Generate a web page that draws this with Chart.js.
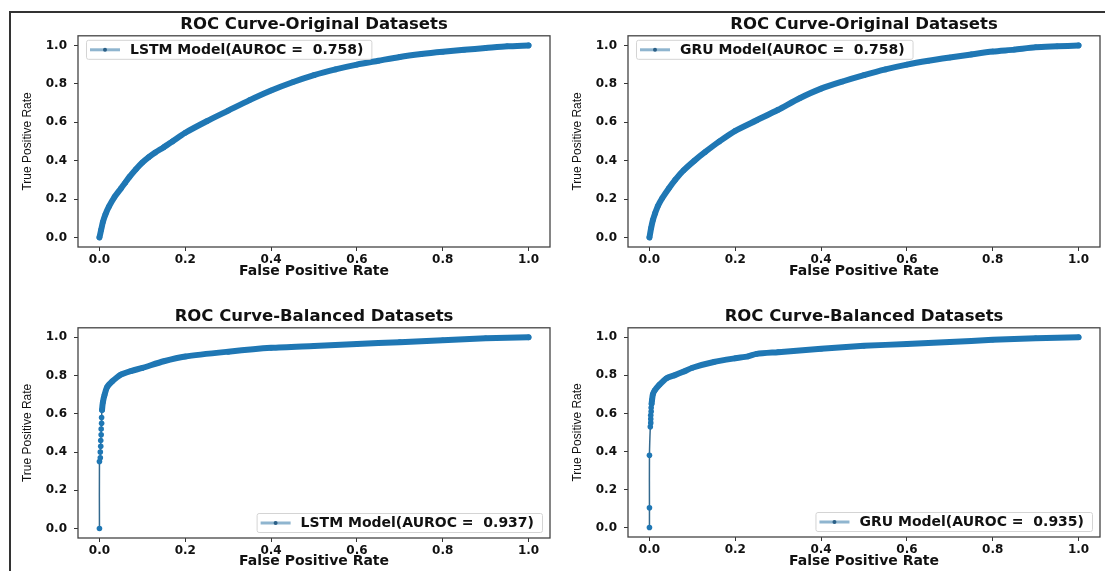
<!DOCTYPE html>
<html>
<head>
<meta charset="utf-8">
<script src="https://cdn.jsdelivr.net/npm/chart.js@4.4.1/dist/chart.umd.min.js"></script>
<style>
  body { margin: 0; background: #fff; }
  #page { position: relative; width: 1105px; height: 571px; overflow: hidden; background: #fff; }
  #frame { position: absolute; left: 9px; top: 11px; width: 1100px; height: 570px;
           border-top: 2px solid #333; border-left: 2px solid #333; }
  canvas { position: absolute; }
</style>
</head>
<body>
<div id="page">
  <div id="frame"></div>
  <canvas id="lstmOrig" width="560" height="285" style="left:0;top:0"></canvas>
  <canvas id="gruOrig" width="545" height="285" style="left:560px;top:0"></canvas>
  <canvas id="lstmBal" width="560" height="286" style="left:0;top:285px"></canvas>
  <canvas id="gruBal" width="545" height="286" style="left:560px;top:285px"></canvas>
</div>
<script>
// values
const tickValues = [0, 0.2, 0.4, 0.6, 0.8, 1.0];

const lstmOrigFpr = [0, 0.004, 0.008, 0.014, 0.022, 0.035, 0.05, 0.06, 0.07, 0.085, 0.1, 0.115, 0.13, 0.15, 0.17, 0.2, 0.25, 0.3, 0.35, 0.4, 0.45, 0.5, 0.55, 0.6, 0.65, 0.7, 0.75, 0.8, 0.85, 0.9, 0.95, 1.0];
const lstmOrigTpr = [0, 0.04, 0.08, 0.12, 0.16, 0.21, 0.255, 0.285, 0.315, 0.355, 0.39, 0.418, 0.442, 0.47, 0.5, 0.545, 0.605, 0.66, 0.715, 0.765, 0.808, 0.845, 0.875, 0.9, 0.92, 0.94, 0.955, 0.967, 0.977, 0.986, 0.995, 1.0];

const gruOrigFpr = [0, 0.004, 0.008, 0.013, 0.02, 0.03, 0.045, 0.06, 0.08, 0.105, 0.13, 0.163, 0.2, 0.25, 0.3, 0.35, 0.4, 0.45, 0.5, 0.55, 0.6, 0.65, 0.7, 0.75, 0.8, 0.85, 0.9, 0.95, 1.0];
const gruOrigTpr = [0, 0.05, 0.09, 0.125, 0.165, 0.205, 0.255, 0.3, 0.35, 0.4, 0.445, 0.5, 0.555, 0.61, 0.665, 0.725, 0.775, 0.812, 0.845, 0.875, 0.9, 0.92, 0.937, 0.953, 0.968, 0.978, 0.99, 0.995, 1.0];

const lstmBalFpr = [0, 0, 0.002, 0.002, 0.003, 0.003, 0.004, 0.004, 0.005, 0.005, 0.006, 0.008, 0.012, 0.018, 0.03, 0.05, 0.075, 0.1, 0.15, 0.2, 0.3, 0.4, 0.5, 0.6, 0.7, 0.8, 0.9, 1.0];
const lstmBalTpr = [0, 0.35, 0.37, 0.4, 0.43, 0.46, 0.49, 0.52, 0.55, 0.58, 0.62, 0.66, 0.7, 0.74, 0.77, 0.805, 0.825, 0.84, 0.875, 0.9, 0.925, 0.945, 0.955, 0.965, 0.975, 0.985, 0.995, 1.0];

const gruBalFpr = [0, 0, 0, 0.002, 0.003, 0.003, 0.003, 0.004, 0.004, 0.005, 0.006, 0.008, 0.012, 0.023, 0.04, 0.058, 0.08, 0.1, 0.15, 0.2, 0.23, 0.25, 0.3, 0.4, 0.5, 0.6, 0.7, 0.8, 0.9, 1.0];
const gruBalTpr = [0, 0.104, 0.38, 0.53, 0.55, 0.57, 0.59, 0.61, 0.63, 0.65, 0.67, 0.7, 0.72, 0.75, 0.785, 0.8, 0.82, 0.84, 0.87, 0.89, 0.9, 0.913, 0.922, 0.94, 0.955, 0.965, 0.975, 0.987, 0.995, 1.0];

const lineColor = '#1f77b4';
const tickFont = { family: 'DejaVu Sans', weight: 'bold', size: 12 };

// axes box on all four sides + matplotlib-like legend inside the plot
const axesBox = {
  id: 'axesBox',
  afterDatasetsDraw(chart, args, opts) {
    const { ctx, chartArea: a } = chart;
    const ds = chart.data.datasets[0];
    ctx.save();
    ctx.strokeStyle = '#444';
    ctx.lineWidth = 1.3;
    ctx.strokeRect(a.left, a.top, a.right - a.left, a.bottom - a.top);

    ctx.font = 'bold 14px "DejaVu Sans"';
    const tw = ctx.measureText(ds.label).width;
    const w = tw + 52, h = 19;
    const x = opts.corner === 'upper left' ? a.left + 8 : a.right - 8 - w;
    const y = opts.corner === 'upper left' ? a.top + 4 : a.bottom - 6 - h;
    ctx.fillStyle = 'rgba(255,255,255,0.9)';
    ctx.strokeStyle = '#d4d4d4';
    ctx.lineWidth = 1;
    ctx.beginPath();
    ctx.roundRect(x + 0.5, y + 0.5, w, h, 2);
    ctx.fill();
    ctx.stroke();
    ctx.strokeStyle = '#8fb5cf';
    ctx.lineWidth = 3;
    ctx.beginPath();
    ctx.moveTo(x + 4, y + h / 2 + 0.5);
    ctx.lineTo(x + 34, y + h / 2 + 0.5);
    ctx.stroke();
    ctx.fillStyle = '#2b5f86';
    ctx.beginPath();
    ctx.arc(x + 19, y + h / 2 + 0.5, 2, 0, Math.PI * 2);
    ctx.fill();
    ctx.fillStyle = '#111';
    ctx.textBaseline = 'middle';
    ctx.fillText(ds.label, x + 44, y + h / 2 + 1);
    ctx.restore();
  }
};

function makeChart(id, fpr, tpr, label, cfg) {
  const points = fpr.map((v, i) => ({ x: v, y: tpr[i] }));
  const thin = c => c.p1.parsed.y < cfg.thinBelow && c.p1.parsed.x < 0.01;
  const ctx = document.getElementById(id).getContext('2d');
  return new Chart(ctx, {
    type: 'line',
    data: {
      datasets: [{
        label: label,
        data: points,
        borderColor: lineColor,
        backgroundColor: lineColor,
        borderWidth: 6,
        borderCapStyle: 'round',
        borderJoinStyle: 'round',
        pointRadius: 2.8,
        pointBorderWidth: 0,
        pointBackgroundColor: lineColor,
        tension: 0.25,
        segment: {
          borderWidth: c => thin(c) ? 1.5 : 6,
          borderColor: c => thin(c) ? '#34698e' : lineColor
        }
      }]
    },
    options: {
      responsive: false,
      animation: false,
      devicePixelRatio: 1,
      layout: { padding: { left: 0, right: cfg.padRight, top: 0, bottom: 0 } },
      plugins: {
        legend: { display: false },
        tooltip: { enabled: false },
        title: {
          display: true,
          text: cfg.title,
          fullSize: false,
          color: '#111',
          font: { family: 'DejaVu Sans', weight: 'bold', size: 16.5, lineHeight: 1.2 },
          padding: { top: cfg.titleTop, bottom: 1 }
        },
        axesBox: { corner: cfg.corner }
      },
      scales: {
        x: {
          type: 'linear',
          min: -0.05,
          max: 1.05,
          afterBuildTicks: s => { s.ticks = tickValues.map(v => ({ value: v })); },
          afterFit: s => { s.height = cfg.xHeight; },
          border: { display: false },
          grid: { drawOnChartArea: false, drawTicks: true, tickLength: 4, tickColor: '#333' },
          ticks: { font: tickFont, color: '#111', padding: 2, maxRotation: 0, callback: v => v.toFixed(1) },
          title: {
            display: true,
            text: 'False Positive Rate',
            color: '#111',
            font: { family: 'DejaVu Sans', weight: 'bold', size: 14 },
            padding: { top: 0, bottom: cfg.xTitleBottom }
          }
        },
        y: {
          type: 'linear',
          min: -0.05,
          max: 1.05,
          afterBuildTicks: s => { s.ticks = tickValues.map(v => ({ value: v })); },
          afterFit: s => { s.width = cfg.yWidth; },
          border: { display: false },
          grid: { drawOnChartArea: false, drawTicks: true, tickLength: 4, tickColor: '#333' },
          ticks: { font: tickFont, color: '#111', padding: 7, callback: v => v.toFixed(1) },
          title: {
            display: true,
            text: 'True Positive Rate',
            color: '#111',
            font: { family: 'Liberation Sans', size: 12 },
            padding: { top: cfg.yTitleTop, bottom: 0 }
          }
        }
      }
    },
    plugins: [axesBox]
  });
}

makeChart('lstmOrig', lstmOrigFpr, lstmOrigTpr, 'LSTM Model(AUROC =  0.758)', {
  title: 'ROC Curve-Original Datasets', padRight: 10, yWidth: 78, xHeight: 38,
  titleTop: 15, xTitleBottom: 5, yTitleTop: 20, corner: 'upper left', thinBelow: 0
});
makeChart('gruOrig', gruOrigFpr, gruOrigTpr, 'GRU Model(AUROC =  0.758)', {
  title: 'ROC Curve-Original Datasets', padRight: 5, yWidth: 68, xHeight: 38,
  titleTop: 15, xTitleBottom: 5, yTitleTop: 10, corner: 'upper left', thinBelow: 0
});
makeChart('lstmBal', lstmBalFpr, lstmBalTpr, 'LSTM Model(AUROC =  0.937)', {
  title: 'ROC Curve-Balanced Datasets', padRight: 10, yWidth: 78, xHeight: 33,
  titleTop: 22, xTitleBottom: 1, yTitleTop: 20, corner: 'lower right', thinBelow: 0.65
});
makeChart('gruBal', gruBalFpr, gruBalTpr, 'GRU Model(AUROC =  0.935)', {
  title: 'ROC Curve-Balanced Datasets', padRight: 5, yWidth: 68, xHeight: 34,
  titleTop: 22, xTitleBottom: 1, yTitleTop: 10, corner: 'lower right', thinBelow: 0.66
});
</script>
</body>
</html>
